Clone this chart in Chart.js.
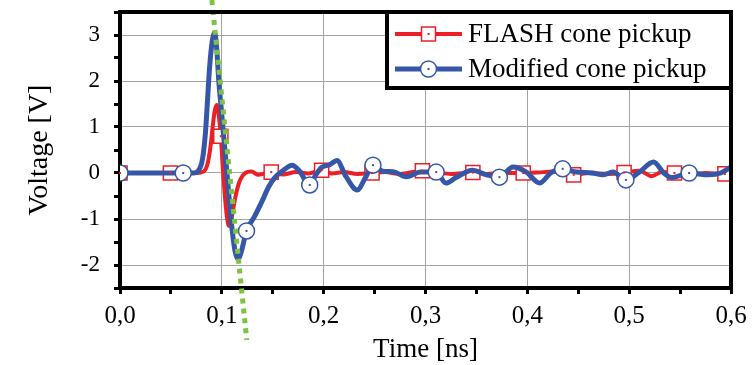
<!DOCTYPE html>
<html>
<head>
<meta charset="utf-8">
<script src="https://cdn.jsdelivr.net/npm/chart.js@4.4.1/dist/chart.umd.min.js"></script>
<style>
  html, body { margin: 0; padding: 0; background: #fff; }
  #wrap { width: 753px; height: 365px; }
</style>
</head>
<body>
<div id="wrap"><canvas id="pickup-chart" width="753" height="365"></canvas></div>
<script>
const FLASH_TIME = [
  0, 0.0495, 0.075, 0.082, 0.086, 0.089, 0.091, 0.093, 0.095, 0.097,
  0.099, 0.101, 0.103, 0.105, 0.107, 0.109, 0.111, 0.114, 0.118, 0.123,
  0.129, 0.136, 0.1485, 0.16, 0.173, 0.185, 0.198, 0.208, 0.22, 0.233,
  0.2475, 0.26, 0.275, 0.297, 0.31, 0.325, 0.3465, 0.36, 0.375, 0.396,
  0.41, 0.425, 0.4455, 0.46, 0.48, 0.495, 0.51, 0.522, 0.532, 0.5445,
  0.56, 0.575, 0.594, 0.6,
];
const FLASH_VOLT = [
  0, 0, 0, 0.03, 0.2, 0.6, 1.0, 1.35, 1.48, 1.25,
  0.8, 0.1, -0.5, -0.95, -1.15, -1.05, -0.8, -0.45, -0.15, 0.0,
  0.03, -0.04, 0.02, -0.03, 0.02, -0.01, 0.06, -0.01, 0.02, -0.02,
  0, 0.02, -0.02, 0.05, 0.02, -0.02, 0.01, -0.02, 0, 0,
  0.01, 0.03, -0.04, 0, -0.02, 0.01, 0.05, -0.07, 0.02, 0,
  -0.03, 0, -0.02, -0.01,
];
const FLASH_MARKERS = [0, 0.0495, 0.099, 0.1485, 0.198, 0.2475, 0.297, 0.3465, 0.396, 0.4455, 0.495, 0.5445, 0.594];

const MOD_TIME = [
  0, 0.0621, 0.072, 0.077, 0.081, 0.084, 0.086, 0.088, 0.0905, 0.093,
  0.095, 0.097, 0.099, 0.101, 0.103, 0.105, 0.107, 0.109, 0.111, 0.113,
  0.116, 0.119, 0.1242, 0.132, 0.14, 0.146, 0.152, 0.16, 0.169, 0.176,
  0.1863, 0.192, 0.198, 0.206, 0.213, 0.222, 0.233, 0.241, 0.2484, 0.258,
  0.268, 0.281, 0.295, 0.3105, 0.32, 0.33, 0.346, 0.36, 0.3726, 0.386,
  0.399, 0.412, 0.423, 0.4347, 0.448, 0.464, 0.474, 0.484, 0.4968, 0.51,
  0.524, 0.534, 0.542, 0.5589, 0.578, 0.59, 0.6,
];
const MOD_VOLT = [
  0, 0, 0, 0.05, 0.3, 0.9, 1.6, 2.3, 2.85, 3.05,
  2.7, 2.0, 1.5, 1.0, 0.5, 0.0, -0.5, -1.0, -1.4, -1.7,
  -1.88, -1.72, -1.26, -0.95, -0.59, -0.3, -0.1, 0.05, 0.17, 0.05,
  -0.26, -0.05, 0.12, 0.18, 0.27, -0.08, -0.37, -0.1, 0.17, 0.04,
  0.03, -0.08, 0.02, 0.02, -0.22, -0.1, 0.06, -0.04, -0.09, 0.13,
  0.02, -0.22, 0.0, 0.09, 0.02, 0, -0.04, 0.02, -0.15, 0.02,
  0.24, 0.0, -0.1, 0, -0.04, 0.0, 0.13,
];
const MOD_MARKERS = [0, 0.0621, 0.1242, 0.1863, 0.2484, 0.3105, 0.3726, 0.4347, 0.4968, 0.5589];

// dotted guide drawn across the pulse
const GUIDE_TIME = [0.0902, 0.1245];
const GUIDE_VOLT = [3.76, -3.63];

const X_LABELS = ["0,0", "0,1", "0,2", "0,3", "0,4", "0,5", "0,6"];
const Y_LABELS = ["-2", "-1", "0", "1", "2", "3"];

const RED = "#ec1f26";
const BLUE = "#3657a7";
const GREEN = "#7dc242";
const SERIF = "'Liberation Serif', 'DejaVu Serif', serif";

function toPoints(xs, ys) {
  return xs.map((x, i) => ({ x, y: ys[i] }));
}

function isMajorX(v) {
  return Math.round(v * 100) % 10 === 0;
}

function isMajorY(v) {
  return Math.abs(v - Math.round(v)) < 1e-6;
}

// frame lines on top/right, plus legend box and marker center dots
const decorPlugin = {
  id: "decor",
  afterDatasetsDraw(chart) {
    const { ctx, chartArea: a } = chart;
    ctx.save();

    // center dots in markers
    chart.data.datasets.forEach((ds, i) => {
      if (!ds.markerDot) return;
      chart.getDatasetMeta(i).data.forEach((pt) => {
        if (pt.options.radius > 0) {
          ctx.fillStyle = ds.borderColor;
          ctx.fillRect(pt.x - 1, pt.y - 1, 2, 2);
        }
      });
    });

    // frame
    ctx.strokeStyle = "#000";
    ctx.lineWidth = 4;
    ctx.beginPath();
    ctx.moveTo(a.left - 2, a.top);
    ctx.lineTo(a.right, a.top);
    ctx.lineTo(a.right, a.bottom + 2);
    ctx.stroke();

    // legend
    const bx = a.right - 344, by = a.top, bw = 344, bh = 76;
    ctx.fillStyle = "#fff";
    ctx.fillRect(bx, by, bw, bh);
    ctx.lineWidth = 4;
    ctx.strokeRect(bx, by, bw, bh);

    const rows = chart.data.datasets.filter((ds) => ds.markerDot).reverse();
    rows.forEach((ds, r) => {
      const y = by + 22 + r * 35;
      const x0 = bx + 8, x1 = bx + 75, xm = (x0 + x1) / 2;
      ctx.strokeStyle = ds.borderColor;
      ctx.lineWidth = ds.borderWidth;
      ctx.beginPath();
      ctx.moveTo(x0, y);
      ctx.lineTo(x1, y);
      ctx.stroke();
      ctx.lineWidth = 1.5;
      ctx.fillStyle = "#fff";
      ctx.beginPath();
      if (ds.pointStyle === "rect") {
        ctx.rect(xm - 7, y - 7, 14, 14);
      } else {
        ctx.arc(xm, y, 8, 0, Math.PI * 2);
      }
      ctx.fill();
      ctx.stroke();
      ctx.fillStyle = ds.borderColor;
      ctx.fillRect(xm - 1, y - 1, 2, 2);

      ctx.fillStyle = "#000";
      ctx.font = `27px ${SERIF}`;
      ctx.textBaseline = "middle";
      ctx.textAlign = "left";
      ctx.fillText(ds.label, bx + 81, y + 1);
    });

    ctx.restore();
  },
};

Chart.defaults.font.family = SERIF;
Chart.defaults.color = "#000";

const ctx = document.getElementById("pickup-chart").getContext("2d");

new Chart(ctx, {
  type: "line",
  data: {
    datasets: [
      {
        label: "Guide",
        data: toPoints(GUIDE_TIME, GUIDE_VOLT),
        borderColor: GREEN,
        borderWidth: 5,
        borderDash: [5, 5],
        pointRadius: 0,
        clip: false,
        order: 0,
      },
      {
        label: "Modified cone pickup",
        data: toPoints(MOD_TIME, MOD_VOLT),
        borderColor: BLUE,
        borderWidth: 5,
        cubicInterpolationMode: "monotone",
        pointStyle: "circle",
        pointRadius: (c) => (c.raw && MOD_MARKERS.includes(c.raw.x) ? 8 : 0),
        pointBackgroundColor: "#fff",
        pointBorderColor: BLUE,
        pointBorderWidth: 1.5,
        markerDot: true,
        order: 1,
      },
      {
        label: "FLASH cone pickup",
        data: toPoints(FLASH_TIME, FLASH_VOLT),
        borderColor: RED,
        borderWidth: 4,
        cubicInterpolationMode: "monotone",
        pointStyle: "rect",
        pointRadius: (c) => (c.raw && FLASH_MARKERS.includes(c.raw.x) ? 10 : 0),
        pointBackgroundColor: "#fff",
        pointBorderColor: RED,
        pointBorderWidth: 1.5,
        markerDot: true,
        order: 2,
      },
    ],
  },
  options: {
    responsive: false,
    animation: false,
    events: [],
    layout: { padding: { top: 12, right: 22, left: 0, bottom: 0 } },
    plugins: {
      legend: { display: false },
      tooltip: { enabled: false },
    },
    scales: {
      x: {
        type: "linear",
        min: 0,
        max: 0.6,
        afterFit: (s) => { s.height = 77; s.paddingLeft = 0; s.paddingRight = 0; },
        ticks: {
          stepSize: 0.05,
          autoSkip: false,
          maxRotation: 0,
          padding: 7,
          font: { size: 25 },
          callback: (v) => (isMajorX(v) ? X_LABELS[Math.round(v * 10)] : ""),
        },
        grid: {
          color: (c) => (c.tick && isMajorX(c.tick.value) ? "#a3a3a3" : "rgba(0,0,0,0)"),
          lineWidth: 1,
          tickColor: "#000",
          tickWidth: 3,
          tickLength: 6,
        },
        border: { color: "#000", width: 4 },
        title: {
          display: true,
          text: "Time [ns]",
          font: { size: 27, lineHeight: 1.1 },
          padding: { top: 0, bottom: 0 },
        },
      },
      y: {
        min: -2.5,
        max: 3.5,
        afterFit: (s) => { s.width = 120; s.paddingTop = 0; s.paddingBottom = 0; },
        ticks: {
          stepSize: 0.5,
          autoSkip: false,
          padding: 14,
          font: { size: 23 },
          callback: (v) => (isMajorY(v) ? Y_LABELS[Math.round(v) + 2] : ""),
        },
        grid: {
          color: (c) => (c.tick && isMajorY(c.tick.value) ? "#a3a3a3" : "rgba(0,0,0,0)"),
          lineWidth: 1,
          tickColor: "#000",
          tickWidth: 3,
          tickLength: 6,
        },
        border: { color: "#000", width: 4 },
        title: {
          display: true,
          text: "Voltage [V]",
          font: { size: 28 },
          padding: { top: 23, bottom: 0 },
        },
      },
    },
  },
  plugins: [decorPlugin],
});
</script>
</body>
</html>
